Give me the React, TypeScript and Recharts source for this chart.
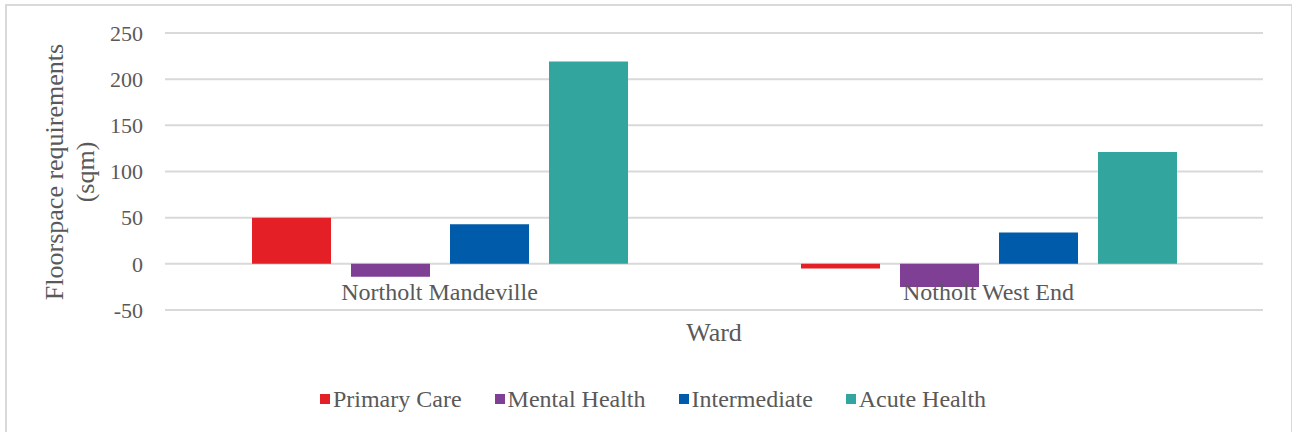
import { BarChart, Bar, XAxis, YAxis, CartesianGrid, Legend } from 'recharts';

const wards = ['Northolt Mandeville', 'Notholt West End'];
const primaryCare = [50, -5];
const mentalHealth = [-14, -25];
const intermediate = [43, 34];
const acuteHealth = [219, 121];
const yTicks = [-50, 0, 50, 100, 150, 200, 250];

const series = [
  { key: 'primary', name: 'Primary Care', color: '#E41F26' },
  { key: 'mental', name: 'Mental Health', color: '#7E3F95' },
  { key: 'intermediate', name: 'Intermediate', color: '#005BAA' },
  { key: 'acute', name: 'Acute Health', color: '#32A59F' },
];

const data = wards.map((ward, i) => ({
  ward,
  primary: primaryCare[i],
  mental: mentalHealth[i],
  intermediate: intermediate[i],
  acute: acuteHealth[i],
}));

const FONT = '"Liberation Serif", "Times New Roman", serif';
const TEXT = '#595959';

// category labels sit just under the zero line, like the original
const WardTick = ({ x, y, payload }: any) => (
  <text x={x} y={y - 10} textAnchor="middle" fill={TEXT} fontSize={24} fontFamily={FONT}>
    {payload.value}
  </text>
);

const YTitle = () => (
  <text
    x={63}
    y={172}
    transform="rotate(-90, 63, 172)"
    textAnchor="middle"
    fill={TEXT}
    fontSize={26}
    fontFamily={FONT}
  >
    <tspan x={63} dy={0}>Floorspace requirements</tspan>
    <tspan x={63} dy={31}>(sqm)</tspan>
  </text>
);

const LegendBox = () => (
  <div
    style={{
      display: 'flex',
      justifyContent: 'center',
      gap: 33,
      fontFamily: FONT,
      fontSize: 24,
      color: TEXT,
      paddingLeft: 14,
      height: 30,
      alignItems: 'center',
    }}
  >
    {series.map((s) => (
      <div key={s.key} style={{ display: 'flex', alignItems: 'center', gap: 3 }}>
        <span style={{ width: 10, height: 10, background: s.color, display: 'inline-block' }} />
        <span>{s.name}</span>
      </div>
    ))}
  </div>
);

export default function App() {
  return (
    <div style={{ position: 'absolute', left: 0, top: 0, width: 1292, height: 432, background: '#fff', overflow: 'hidden' }}>
      <div
        style={{
          position: 'absolute',
          left: 5,
          top: 4,
          width: 1284,
          height: 440,
          border: '2px solid #D9D9D9',
        }}
      />
      <div style={{ position: 'absolute', left: 0, top: 0 }}>
        <BarChart
          width={1292}
          height={432}
          data={data}
          margin={{ top: 33, right: 29, left: 0, bottom: 82 }}
          barSize={79}
          barGap={20}
        >
          <CartesianGrid vertical={false} stroke="#D9D9D9" strokeWidth={2} />
          <XAxis
            dataKey="ward"
            axisLine={false}
            tickLine={false}
            tickSize={0}
            tickMargin={0}
            height={40}
            tick={<WardTick />}
            label={{
              value: 'Ward',
              position: 'insideTop',
              offset: 13,
              fill: TEXT,
              fontSize: 26,
              fontFamily: FONT,
            }}
          />
          <YAxis
            width={165}
            domain={[-50, 250]}
            ticks={yTicks}
            axisLine={false}
            tickLine={false}
            tickSize={0}
            tickMargin={22}
            tick={{ fill: TEXT, fontSize: 22, fontFamily: FONT }}
            label={{ content: () => <YTitle /> }}
          />
          <Legend
            verticalAlign="middle"
            wrapperStyle={{ top: 384, left: 0, width: 1292 }}
            content={() => <LegendBox />}
          />
          {series.map((s) => (
            <Bar key={s.key} dataKey={s.key} name={s.name} fill={s.color} isAnimationActive={false} />
          ))}
        </BarChart>
      </div>
    </div>
  );
}
